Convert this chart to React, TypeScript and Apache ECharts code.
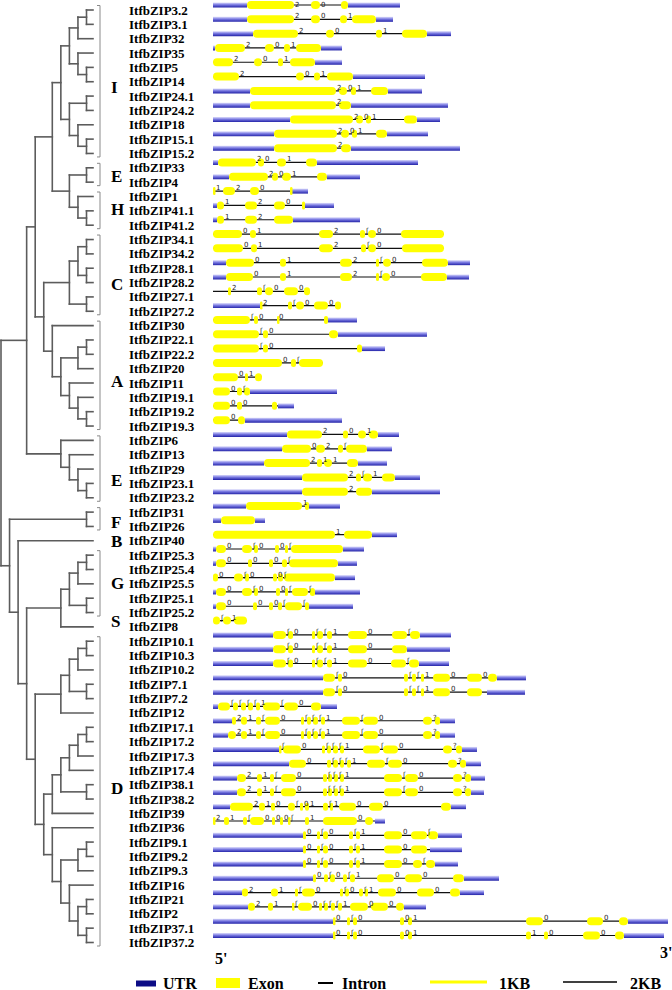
import React, { useEffect, useRef } from "react";
import * as echarts from "echarts";

// ---- Gene rows (top to bottom) ----
const geneIds: string[] = [
  "3.2","3.1","32","35","5","14","24.1","24.2","18","15.1","15.2",
  "33","4","1","41.1","41.2",
  "34.1","34.2","28.1","28.2","27.1","27.2",
  "30","22.1","22.2","20","11","19.1","19.2","19.3",
  "6","13","29","23.1","23.2","31","26","40",
  "25.3","25.4","25.5","25.1","25.2","8",
  "10.1","10.3","10.2","7.1","7.2","12","17.1","17.2","17.3","17.4","38.1","38.2",
  "39","36","9.1","9.2","9.3","16","21","2","37.1","37.2"
];
const geneNames: string[] = geneIds.map((id) => "ItfbZIP" + id);

// 5' UTR end (relative position units, 0 = no 5' UTR)
const utr5End: number[] = [
  34,34,40,2,0,0,37,37,77,61,61,
  5,16,0,4,4,
  0,0,13,13,0,47,
  0,0,0,0,0,0,0,0,
  74,69,51,89,89,33,8,0,
  3,3,0,3,3,0,
  60,60,60,110,110,5,19,15,66,76,24,24,
  17,0,90,90,90,100,29,35,120,120
];

// 3' UTR [start, end]
const utr3: number[][] = [
  [135,187],[163,180],[214,238],[108,129],[102,129],[140,212],[175,209],[138,235],[204,227],[174,215],[138,247],
  [104,205],[114,147],[79,95],[92,121],[80,147],
  [],[],[235,257],[234,256],[],[],
  [115,144],[125,214],[149,172],[],[],[37,124],[65,81],[32,129],
  [165,186],[154,179],[145,174],[182,207],[159,227],[96,127],[42,52],[159,184],
  [130,151],[125,144],[122,142],[102,147],[96,140],[],
  [207,238],[194,237],[206,236],[284,313],[274,312],[108,124],[227,242],[227,242],[249,264],[253,268],[258,272],[258,271],
  [238,253],[162,172],[225,249],[217,249],[222,245],[251,286],[247,271],[191,213],[415,455],[411,451]
];

// exons as flat [start, end, start, end, ...]
const exons: number[][] = [
  [34,81,98,107,128,135],
  [34,81,98,107,127,134,139,163],
  [40,85,113,121,163,169,189,214],
  [2,32,52,61,71,77,83,108],
  [0,20,41,49,65,70,77,102],
  [0,26,83,91,101,107,114,140],
  [37,123,126,134,138,143,158,175],
  [37,123,126,138],
  [77,140,143,150,153,158,191,204],
  [61,124,128,136,139,144,163,174],
  [61,124,128,138],
  [5,43,45,51,64,73,93,104],
  [16,55,59,65,69,78,104,114],
  [0,2,10,22,37,46,77,79],
  [4,11,32,44,61,72,89,92],
  [4,11,32,44,61,80],
  [0,29,37,43,106,120,147,152,155,163,188,231],
  [0,30,38,44,106,120,148,153,155,163,189,231],
  [13,41,67,73,127,139,163,166,170,178,209,235],
  [13,40,67,73,127,139,163,166,169,177,208,234],
  [15,18,44,49,52,60,71,85,91,97],
  [47,49,75,79,83,91,101,115,122,128],
  [0,37,41,45,64,65,111,115],
  [0,46,50,55,116,125],
  [0,46,50,55,144,149],
  [0,69,78,83,86,110],
  [0,25,32,35,42,49],
  [0,17,24,29,31,37],
  [0,17,24,29,59,64],
  [0,17,25,32],
  [74,109,130,135,145,153,156,165],
  [69,98,103,112,125,130,133,154],
  [51,97,104,109,111,119,134,145],
  [89,135,143,148,150,159,169,182],
  [89,135,143,159],
  [33,89,92,96],
  [8,42],
  [0,122,131,159],
  [3,13,29,39,41,45,62,66,72,75,78,130],
  [3,13,35,39,56,60,69,74,76,125],
  [0,5,21,30,32,36,60,64,65,70,71,122],
  [3,13,29,39,41,45,63,67,72,75,79,95,97,102],
  [3,13,40,44,56,60,65,69,72,89,92,96],
  [0,7,10,18,21,34],
  [60,73,75,80,99,102,104,110,114,119,135,154,179,194,197,207],
  [60,73,75,80,99,102,104,110,114,119,135,154,179,194],
  [60,73,75,80,99,102,104,110,114,119,135,154,178,193,196,206],
  [110,122,125,129,191,195,199,203,208,211,220,237,254,269,275,284],
  [110,122,125,129,191,195,199,203,208,211,220,237,254,269],
  [5,17,20,25,28,33,35,40,43,47,50,67,71,85,98,108],
  [19,23,28,34,43,48,52,67,88,91,94,98,100,105,108,112,129,147,150,165,210,219,222,227],
  [15,23,28,34,43,48,52,67,88,91,94,98,100,105,108,112,129,147,150,165,210,219,222,227],
  [66,68,70,88,109,112,114,118,120,125,127,131,150,167,170,185,230,239,243,249],
  [76,93,114,118,120,125,127,131,134,138,154,172,175,189,235,244,247,253],
  [24,33,44,49,57,61,68,83,110,114,115,119,121,125,127,131,171,189,192,205,240,249,252,258],
  [24,33,44,49,57,61,68,83,110,114,115,119,121,125,127,131,171,189,192,205,240,249,252,258],
  [17,40,46,52,58,62,75,82,87,90,92,96,110,115,117,120,126,143,156,170,228,238],
  [0,2,11,16,30,34,37,51,59,62,67,70,75,77,92,96,110,144,152,160],
  [90,93,104,107,110,115,136,140,143,147,171,189,198,214,215,225],
  [90,93,104,107,110,115,136,140,143,147,171,189,198,214],
  [90,93,104,107,110,115,136,140,143,147,171,189,200,209,213,222],
  [100,103,111,115,117,122,130,134,137,142,164,181,192,209,240,251],
  [29,35,58,65,82,85,89,102,127,130,132,136,146,150,152,155,165,183,204,221,237,247],
  [35,42,55,60,79,81,85,99,106,109,111,115,118,122,125,129,137,155,158,175,183,191],
  [120,122,134,137,140,144,187,191,195,199,313,330,374,390,406,415],
  [120,122,134,137,140,144,187,191,195,199,313,318,331,335,370,387,402,411]
];

// intron phase marks (one char per intron, in order)
const phases: string[] = [
  "20","201","201","201","201","201","201","2","201","201","2",
  "201","201","120","120","12",
  "012ʃ0","012ʃ0","012ʃ0","012ʃ0","2ʃ00","2ʃ00",
  "ʃ00","ʃ0","ʃ0","0ʃ","01","0ʃ","00","0",
  "201","02ʃ","211","2ʃ1","2","1","","1",
  "0ʃ00ʃ","000ʃ","0ʃ00ʃ","0ʃ00ʃʃ","000ʃʃ","ʃ1",
  "ʃ0ʃʃ10ʃ","ʃ0ʃʃ10","ʃ0ʃʃ10ʃ","ʃ0ʃʃ100","ʃ0ʃʃ10","ʃʃʃʃ1ʃ0",
  "21ʃ0ʃʃʃ1ʃ0?","21ʃ0ʃʃʃ1ʃ0?","ʃ0ʃʃʃ1ʃ0?","0ʃʃʃ1ʃ0?","21ʃ0ʃʃʃ1ʃ0?","21ʃ0ʃʃʃ1ʃ0?",
  "210ʃ01ʃ100","21ʃ000ʃ10","0ʃ0ʃ10ʃ","0ʃ0ʃ10","0ʃ0ʃ10ʃ","0ʃ0ʃ100","21ʃ0ʃ0ʃ100","21ʃ0ʃʃʃ100",
  "0ʃ00100","0ʃ001100"
];

// ---- Tree (clade@depth level of its joining node) ----
const cladeI = "((((3.2,3.1)@10,32)@9,(35,(5,14)@10)@9)@8,((24.1,24.2)@10,(18,(15.1,15.2)@10)@9)@8)@7";
const cladeEH = "((33,4)@10,(1,(41.1,41.2)@10)@9)@8";
const cladeC = "(((34.1,34.2)@10,(28.1,28.2)@10)@9,(27.1,27.2)@10)@8";
const cladeA = "(30,(((22.1,22.2)@10,20)@9,(11,(19.1,(19.2,19.3)@10)@9)@8)@7)@6";
const cladeE2 = "(6,(13,(29,(23.1,23.2)@10)@9)@8)@7";
const cladeF = "(31,26)@10";
const cladeG = "(((25.3,25.4)@10,25.5)@9,(25.1,25.2)@10)@8";
const cladeD1 = "((((10.1,10.3)@10,10.2)@9,(7.1,7.2)@10)@8,12)@7";
const cladeD2 = "(((((17.1,17.2)@10,17.3)@9,17.4)@8,(38.1,38.2)@10)@7,39)@6";
const cladeD3 = "(36,(((9.1,9.2)@10,9.3)@9,(16,((21,2)@10,(37.1,37.2)@10)@9)@8)@7)@6";
const treeNewick =
  "(((((" + cladeI + "," + cladeEH + ")@6,(" + cladeC + "," + cladeA + ")@5)@4," + cladeE2 + ")@3," +
  "(" + cladeF + ",(40,((" + cladeG + ",8)@7,(" + cladeD1 + ",(" + cladeD2 + "," + cladeD3 + ")@5)@4)@3)@2)@1)@0";
const leafTipLevel = 10.76;

// ---- Subfamily groups ----
const groupLetters: string[] = ["I","E","H","C","A","E","F","B","G","S","D"];
const groupStart: number[] = [0,11,13,16,22,30,35,37,38,43,44];
const groupEnd: number[] = [10,12,15,21,29,34,36,37,42,43,65];
const groupLetterRow: number[] = [5.4,11.64,13.94,19.1,25.9,32.8,35.7,37.07,39.96,42.6,54.3];

type TNode = { name?: string; level?: number; children?: TNode[] };

function parseTree(s: string): TNode {
  let i = 0;
  function node(): TNode {
    if (s[i] === "(") {
      i++;
      const children: TNode[] = [node()];
      while (s[i] === ",") { i++; children.push(node()); }
      i++; // ')'
      let level = 0;
      if (s[i] === "@") {
        i++;
        let num = "";
        while (i < s.length && /[0-9.]/.test(s[i])) num += s[i++];
        level = parseFloat(num);
      }
      return { children, level };
    }
    let name = "";
    while (i < s.length && !/[,()@]/.test(s[i])) name += s[i++];
    return { name: name.trim() };
  }
  return node();
}

function treeSegments(root: TNode): number[][] {
  const segs: number[][] = [];
  function walk(n: TNode): { x: number; y: number } {
    if (!n.children) return { x: leafTipLevel, y: geneIds.indexOf(n.name as string) };
    const pts = n.children.map(walk);
    const lv = n.level as number;
    const y0 = pts[0].y;
    const y1 = pts[pts.length - 1].y;
    segs.push([lv, y0, lv, y1]);
    pts.forEach((p) => segs.push([lv, p.y, p.x, p.y]));
    return { x: lv, y: (y0 + y1) / 2 };
  }
  walk(root);
  return segs;
}

const SERIF = '"Liberation Serif", "Times New Roman", serif';

export default function App() {
  const ref = useRef<HTMLDivElement>(null);
  useEffect(() => {
    document.body.style.margin = "0";
    if (!ref.current) return;
    const chart = echarts.init(ref.current, undefined, { renderer: "svg" });
    const segs = treeSegments(parseTree(treeNewick));
    const utrFill = new echarts.graphic.LinearGradient(0, 0, 0, 1, [
      { offset: 0, color: "#dcdcfb" },
      { offset: 0.45, color: "#7a7ae2" },
      { offset: 1, color: "#2323a8" }
    ]);

    const option: any = {
      animation: false,
      grid: [
        { left: 213, top: 5, width: 455, height: 930.5 },
        { left: 1, top: 10, width: 85.5, height: 932.5 }
      ],
      xAxis: [
        { type: "value", gridIndex: 0, min: 0, max: 455, show: false },
        { type: "value", gridIndex: 1, min: 0, max: 10, show: false }
      ],
      yAxis: [
        { type: "value", gridIndex: 0, min: 0, max: 65, inverse: true, show: false },
        { type: "value", gridIndex: 1, min: 0, max: 65, inverse: true, show: false }
      ],
      series: [
        {
          type: "custom",
          name: "genes",
          xAxisIndex: 0,
          yAxisIndex: 0,
          data: geneIds.map((_, i) => [0, i]),
          renderItem: (params: any, api: any) => {
            const i = params.dataIndex;
            const yc = api.coord([0, i])[1];
            const px = (v: number) => api.coord([v, i])[0];
            const ex = exons[i];
            const u3 = utr3[i];
            const end = Math.max(u3.length ? u3[1] : 0, ex[ex.length - 1]);
            const children: any[] = [];
            children.push({
              type: "line",
              shape: { x1: px(0), y1: yc, x2: px(end), y2: yc },
              style: { stroke: "#111", lineWidth: 1.2 }
            });
            const utrRect = (a: number, b: number) => ({
              type: "rect",
              shape: { x: px(a), y: yc - 2.5, width: px(b) - px(a), height: 5 },
              style: { fill: utrFill }
            });
            if (utr5End[i] > 0) children.push(utrRect(0, utr5End[i]));
            if (u3.length) children.push(utrRect(u3[0], u3[1]));
            for (let k = 0; k < ex.length; k += 2) {
              const x0 = px(ex[k]);
              const w = Math.max(px(ex[k + 1]) - x0, 2.5);
              children.push({
                type: "rect",
                shape: { x: x0, y: yc - 4, width: w, height: 8, r: Math.min(4, w / 2) },
                style: { fill: "#ffff00" }
              });
            }
            const ph = Array.from(phases[i]);
            ph.forEach((c, k) => {
              const xe = px(ex[2 * k + 1]);
              children.push({
                type: "text",
                style: {
                  text: c,
                  x: xe + 1,
                  y: Math.max(yc + 0.5, 8),
                  font: '7px "DejaVu Sans", sans-serif',
                  fill: "#222",
                  textVerticalAlign: "bottom",
                  verticalAlign: "bottom"
                }
              });
            });
            return { type: "group", children };
          }
        },
        {
          type: "custom",
          name: "tree",
          xAxisIndex: 1,
          yAxisIndex: 1,
          dimensions: ["x1", "y1", "x2", "y2"],
          encode: { x: [0, 2], y: [1, 3] },
          data: segs,
          renderItem: (params: any, api: any) => {
            const a = api.coord([api.value(0), api.value(1)]);
            const b = api.coord([api.value(2), api.value(3)]);
            return {
              type: "line",
              shape: { x1: a[0], y1: a[1], x2: b[0], y2: b[1] },
              style: { stroke: "#5c5c5c", lineWidth: 1.6, lineCap: "square" }
            };
          }
        },
        {
          type: "custom",
          name: "labels",
          xAxisIndex: 1,
          yAxisIndex: 1,
          data: geneIds.map((_, i) => [0, i]),
          renderItem: (params: any, api: any) => {
            const i = params.dataIndex;
            const y = api.coord([0, i])[1];
            return {
              type: "text",
              style: {
                text: geneNames[i],
                x: 129,
                y: y,
                font: "bold 13px " + SERIF,
                fill: "#000",
                textVerticalAlign: "middle",
                verticalAlign: "middle"
              }
            };
          }
        },
        {
          type: "custom",
          name: "groups",
          xAxisIndex: 1,
          yAxisIndex: 1,
          data: groupLetters.map((_, g) => [0, groupStart[g]]),
          renderItem: (params: any, api: any) => {
            const g = params.dataIndex;
            const yTop = api.coord([0, groupStart[g]])[1] - 4.5;
            const yBot = api.coord([0, groupEnd[g]])[1] + 3.5;
            const yL = api.coord([0, groupLetterRow[g]])[1];
            const children: any[] = [];
            if (groupEnd[g] > groupStart[g]) {
              children.push({
                type: "polyline",
                shape: { points: [[97, yTop], [100, yTop], [100, yBot], [97, yBot]] },
                style: { stroke: "#8a8a8a", lineWidth: 1, fill: "none" }
              });
            }
            children.push({
              type: "text",
              style: {
                text: groupLetters[g],
                x: 111,
                y: yL,
                font: "bold 17px " + SERIF,
                fill: "#000",
                textVerticalAlign: "middle",
                verticalAlign: "middle"
              }
            });
            return { type: "group", children };
          }
        }
      ],
      graphic: [
        { type: "text", left: 215, top: 950, style: { text: "5'", font: "bold 16px " + SERIF, fill: "#000" } },
        { type: "text", left: 660, top: 944, style: { text: "3'", font: "bold 16px " + SERIF, fill: "#000" } },
        { type: "rect", shape: { x: 136, y: 980.5, width: 20, height: 6 }, style: { fill: "#0c0c86" } },
        { type: "text", left: 163, top: 975, style: { text: "UTR", font: "bold 16px " + SERIF, fill: "#000" } },
        { type: "rect", shape: { x: 216, y: 978, width: 24, height: 10 }, style: { fill: "#ffff00" } },
        { type: "text", left: 248, top: 975, style: { text: "Exon", font: "bold 16px " + SERIF, fill: "#000" } },
        { type: "line", shape: { x1: 318, y1: 983, x2: 333, y2: 983 }, style: { stroke: "#000", lineWidth: 2 } },
        { type: "text", left: 342, top: 975, style: { text: "Intron", font: "bold 16px " + SERIF, fill: "#000" } },
        { type: "line", shape: { x1: 430, y1: 982, x2: 487, y2: 982 }, style: { stroke: "#ffff00", lineWidth: 3 } },
        { type: "text", left: 499, top: 975, style: { text: "1KB", font: "bold 16px " + SERIF, fill: "#000" } },
        { type: "line", shape: { x1: 563, y1: 982, x2: 617, y2: 982 }, style: { stroke: "#000", lineWidth: 1.5 } },
        { type: "text", left: 630, top: 975, style: { text: "2KB", font: "bold 16px " + SERIF, fill: "#000" } }
      ]
    };
    chart.setOption(option);
    return () => chart.dispose();
  }, []);
  return <div ref={ref} style={{ width: 672, height: 990 }} />;
}
